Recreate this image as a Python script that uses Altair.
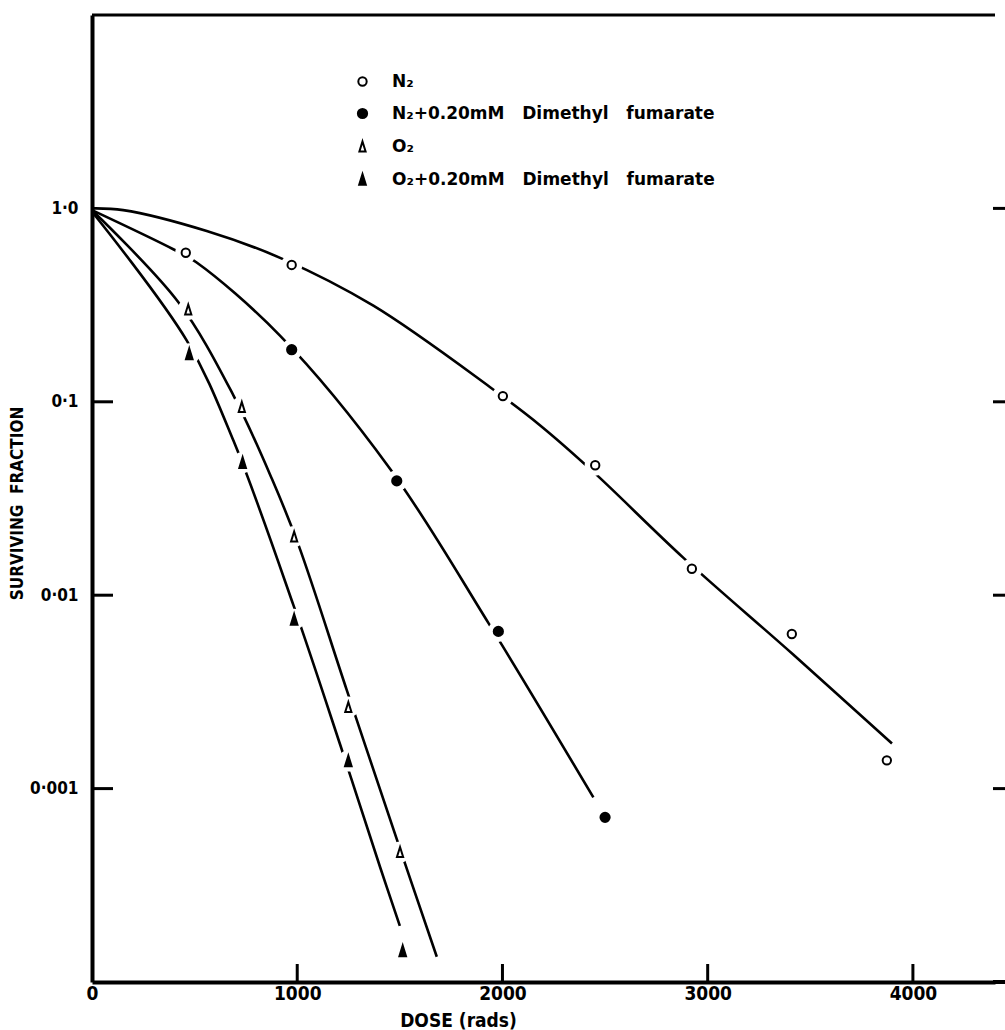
import altair as alt
import pandas as pd

# ---------------- data ----------------
NB = "\u00a0"
series_names = [
    "N₂",
    f"N₂+0.20mM{NB}{NB}{NB}Dimethyl{NB}{NB}{NB}fumarate",
    "O₂",
    f"O₂+0.20mM{NB}{NB}{NB}Dimethyl{NB}{NB}{NB}fumarate",
]

# measured points (dose in rads, surviving fraction)
n2_dose = [457, 973, 2002, 2452, 2923, 3410, 3873]
n2_sf = [0.59, 0.51, 0.107, 0.047, 0.0137, 0.0063, 0.0014]

n2dmf_dose = [973, 1485, 1980, 2500]
n2dmf_sf = [0.186, 0.039, 0.0065, 0.00071]

o2_dose = [469, 730, 985, 1249, 1501]
o2_sf = [0.30, 0.094, 0.0201, 0.00264, 0.00047]

o2dmf_dose = [474, 734, 985, 1249, 1514]
o2dmf_sf = [0.177, 0.0485, 0.0075, 0.00139, 0.000145]

# hand-drawn curves, vertices
c_n2_dose = [0, 152, 559, 925, 1371, 1940, 2184, 2443, 2882, 3418, 3898]
c_n2_sf = [1.0, 0.98, 0.764, 0.55, 0.314, 0.119, 0.0755, 0.0434, 0.0156, 0.00492, 0.00171]

c_n2dmf_dose = [0, 396, 510, 916, 1452, 1932, 2443]
c_n2dmf_sf = [0.98, 0.615, 0.525, 0.22, 0.0451, 0.00717, 0.0009]

c_o2_dose = [10, 421, 689, 876, 1006, 1241, 1485, 1680]
c_o2_sf = [0.955, 0.327, 0.108, 0.0401, 0.0182, 0.00324, 0.000548, 0.000135]

c_o2dmf_dose = [10, 462, 689, 981, 1209, 1404, 1500]
c_o2dmf_sf = [0.933, 0.207, 0.063, 0.00891, 0.00169, 0.000392, 0.000195]

# axis ticks / labels
x_tick_values = [0, 1000, 2000, 3000, 4000]
x_inner_ticks = [1000, 2000, 3000, 4000]
y_tick_values = [1.0, 0.1, 0.01, 0.001]
y_tick_labels = ["1·0", "0·1", "0·01", "0·001"]
y_inner_ticks = [0.1, 0.01, 0.001]

# ---------------- tables ----------------
pts_rows = []
for name, ds, ss in zip(series_names,
                        [n2_dose, n2dmf_dose, o2_dose, o2dmf_dose],
                        [n2_sf, n2dmf_sf, o2_sf, o2dmf_sf]):
    for d, s in zip(ds, ss):
        pts_rows.append({"series": name, "dose": d, "sf": s})
pts = pd.DataFrame(pts_rows)

curve_rows = []
for name, ds, ss in zip(series_names,
                        [c_n2_dose, c_n2dmf_dose, c_o2_dose, c_o2dmf_dose],
                        [c_n2_sf, c_n2dmf_sf, c_o2_sf, c_o2dmf_sf]):
    for i, (d, s) in enumerate(zip(ds, ss)):
        curve_rows.append({"series": name, "dose": d, "sf": s, "order": i})
curves = pd.DataFrame(curve_rows)

yin = pd.DataFrame({"sf": y_inner_ticks})
yright = pd.DataFrame({"sf": y_tick_values})
xin = pd.DataFrame({"dose": x_inner_ticks})
one = pd.DataFrame({"k": [0]})

# ---------------- layout ----------------
W, H = 903, 967
LABEL_FONT = "DejaVu Sans Condensed, DejaVu Sans"
TEXT_FONT = "DejaVu Sans"
TRI = "M0,-1L0.62,1L-0.62,1Z"

xscale = alt.Scale(domain=[0, 4400], nice=False, zero=False)
yscale = alt.Scale(type="log", domain=[0.0001, 10], nice=False)

label_expr = " : ".join(
    [f"datum.value >= {v*0.99} ? '{t}'" for v, t in zip(y_tick_values[:-1], y_tick_labels[:-1])]
) + f" : '{y_tick_labels[-1]}'"

x_axis = alt.Axis(
    values=x_tick_values, format="d", grid=False, ticks=False, tickSize=0,
    domainColor="black", domainWidth=4, labelColor="black",
    labelFont=LABEL_FONT, labelFontSize=19, labelFontWeight="bold",
    labelPadding=2, labelFlush=False,
    title="DOSE (rads)", titleFont=LABEL_FONT, titleFontSize=19, titleFontWeight="bold",
    titleColor="black", titleX=366, titleY=44, titleBaseline="alphabetic",
)
y_axis = alt.Axis(
    values=y_tick_values, labelExpr=label_expr, grid=False, ticks=False, tickSize=0,
    domainColor="black", domainWidth=4, labelColor="black",
    labelFont=LABEL_FONT, labelFontSize=17, labelFontWeight="bold", labelPadding=14,
    title=f"SURVIVING{NB}{NB}FRACTION", titleFont=LABEL_FONT, titleFontSize=17,
    titleFontWeight="bold", titleColor="black", titleX=-66, titleY=488,
)

X = alt.X("dose:Q", scale=xscale, axis=x_axis)
Y = alt.Y("sf:Q", scale=yscale, axis=y_axis)

lines = alt.Chart(curves).mark_line(
    color="black", strokeWidth=2.6, interpolate="catmull-rom"
).encode(x=X, y=Y, detail="series:N", order="order:Q")

halos = alt.Chart(pts).mark_point(
    shape="circle", filled=True, color="white", size=450, opacity=1
).encode(x=X, y=Y)

legend = alt.Legend(
    title=None, orient="none", legendX=262, legendY=58,
    labelFont=TEXT_FONT, labelFontSize=17, labelFontWeight="bold", labelColor="black",
    labelLimit=0, symbolStrokeWidth=2,
    rowPadding=14, labelOffset=21, padding=0,
)

markers = alt.Chart(pts).mark_point(
    opacity=1, fillOpacity=1, strokeWidth=2
).encode(
    x=X, y=Y,
    shape=alt.Shape("series:N", scale=alt.Scale(
        domain=series_names, range=["circle", "circle", TRI, TRI]),
        legend=legend),
    fill=alt.Fill("series:N", scale=alt.Scale(
        domain=series_names, range=["white", "black", "white", "black"]),
        legend=legend),
    stroke=alt.Stroke("series:N", scale=alt.Scale(
        domain=series_names, range=["black", "black", "black", "black"]),
        legend=legend),
    size=alt.Size("series:N", scale=alt.Scale(
        domain=series_names, range=[70, 115, 170, 220]),
        legend=legend),
)

left_ticks = alt.Chart(yin).mark_rule(color="black", strokeWidth=3).encode(
    y=Y, x=alt.value(0), x2=alt.value(21),
)
right_ticks = alt.Chart(yright).mark_rule(color="black", strokeWidth=3).encode(
    y=Y, x=alt.value(W - 2), x2=alt.value(W + 10),
)
bottom_ticks = alt.Chart(xin).mark_rule(color="black", strokeWidth=3).encode(
    x=X, y=alt.value(H), y2=alt.value(H - 18),
)
top_border = alt.Chart(one).mark_rule(color="black", strokeWidth=3).encode(
    x=alt.value(0), x2=alt.value(W), y=alt.value(0),
)
bottom_extend = alt.Chart(one).mark_rule(color="black", strokeWidth=4).encode(
    x=alt.value(W - 2), x2=alt.value(W + 10), y=alt.value(H),
)

chart = alt.layer(
    lines, halos, markers, left_ticks, right_ticks, bottom_ticks, top_border, bottom_extend
).properties(
    width=W, height=H,
    autosize=alt.AutoSizeParams(type="none"),
    padding={"left": 92, "top": 15, "right": 10, "bottom": 48},
    background="white",
).configure_view(stroke=None)

chart.save("out.html", embed_options={"renderer": "svg", "actions": False})
